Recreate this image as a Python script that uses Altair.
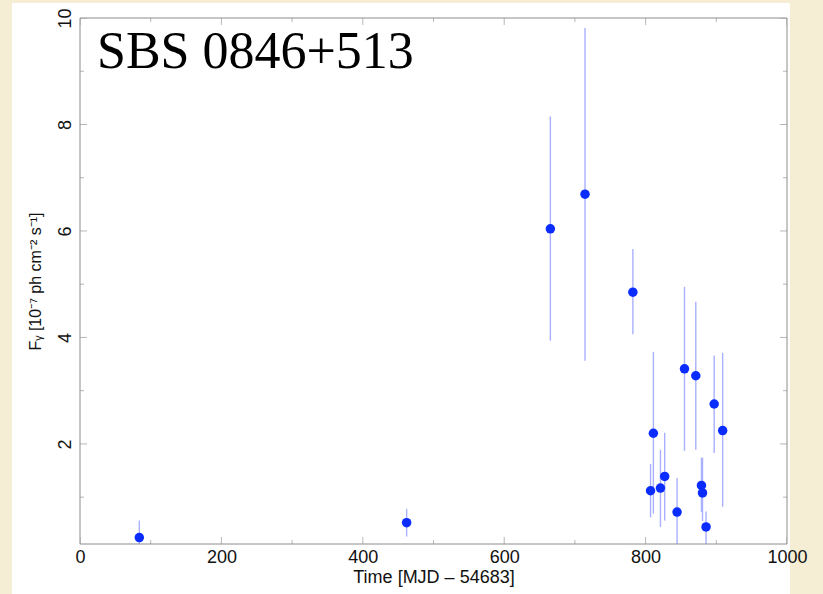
import altair as alt
import pandas as pd

# ---- data ----
t_mjd = [83.9, 462, 665.3, 714.3, 782, 807, 811, 821, 827, 844.5, 855, 871, 879, 880.5, 885.5, 897, 909]
flux = [0.24, 0.52, 6.04, 6.69, 4.85, 1.12, 2.20, 1.17, 1.39, 0.72, 3.41, 3.28, 1.22, 1.08, 0.44, 2.75, 2.25]
flux_lo = [0.0, 0.26, 3.94, 3.56, 4.06, 0.62, 0.69, 0.44, 0.56, 0.0, 1.87, 1.89, 0.72, 0.55, 0.0, 1.83, 0.82]
flux_hi = [0.56, 0.78, 8.15, 9.81, 5.66, 1.62, 3.73, 1.89, 2.21, 1.36, 4.95, 4.67, 1.74, 1.74, 0.73, 3.66, 3.71]

x_ticks_major = [0, 200, 400, 600, 800, 1000]
x_ticks_minor = [100, 300, 500, 700, 900]
y_ticks_major = [2, 4, 6, 8, 10]
y_ticks_minor = [1, 3, 5, 7, 9]

source_name = "SBS 0846+513"
x_title = "Time [MJD \u2013 54683]"
y_title = "F\u1d67 [10\u207b\u2077 ph cm\u207b\u00b2 s\u207b\u00b9]"

X_DOM = [0, 1000]
Y_DOM = [0.12, 10]
W, H = 707, 526

df = pd.DataFrame({"t": t_mjd, "f": flux, "lo": flux_lo, "hi": flux_hi})

xs = alt.Scale(domain=X_DOM, nice=False, zero=False)
ys = alt.Scale(domain=Y_DOM, nice=False, zero=False)

xaxis = alt.Axis(values=x_ticks_major, format="d", ticks=False, domain=False, grid=False, zindex=2,
                 labelFont="Liberation Sans", labelFontSize=18, labelColor="#111",
                 labelPadding=4, title=x_title, titleFont="Liberation Sans",
                 titleFontSize=18, titleFontWeight="normal", titleColor="#111",
                 titlePadding=2, labelFlush=False)
yaxis = alt.Axis(values=y_ticks_major, format="d", ticks=False, domain=False, grid=False, zindex=2,
                 labelFont="Liberation Sans", labelFontSize=18, labelColor="#111",
                 labelAngle=-90, labelPadding=6, title=y_title,
                 titleFont="Liberation Sans", titleFontSize=16, titleFontWeight="normal",
                 titleColor="#111", titlePadding=13, labelFlush=False)

one = pd.DataFrame({"a": [0]})

# white panel behind the figure
panel = alt.Chart(one).mark_rect(color="white").encode(
    x=alt.value(-68), x2=alt.value(710), y=alt.value(-15), y2=alt.value(H + 50)
)

errs = alt.Chart(df).mark_rule(color="#a9b0ff", strokeWidth=1.4, clip=True).encode(
    x=alt.X("t:Q", scale=xs, axis=xaxis),
    y=alt.Y("lo:Q", scale=ys, axis=yaxis),
    y2="hi:Q",
)

pts = alt.Chart(df).mark_circle(color="#0a2cff", opacity=1, size=90, clip=True).encode(
    x=alt.X("t:Q", scale=xs),
    y=alt.Y("f:Q", scale=ys),
)

# tick marks (inward, on all four sides)
xt = pd.DataFrame({
    "v": x_ticks_major * 2 + x_ticks_minor * 2,
    "edge": [Y_DOM[0]] * len(x_ticks_major) + [Y_DOM[1]] * len(x_ticks_major)
            + [Y_DOM[0]] * len(x_ticks_minor) + [Y_DOM[1]] * len(x_ticks_minor),
    "len": [14] * (2 * len(x_ticks_major)) + [8] * (2 * len(x_ticks_minor)),
})
yt = pd.DataFrame({
    "v": y_ticks_major * 2 + y_ticks_minor * 2,
    "edge": [X_DOM[0]] * len(y_ticks_major) + [X_DOM[1]] * len(y_ticks_major)
            + [X_DOM[0]] * len(y_ticks_minor) + [X_DOM[1]] * len(y_ticks_minor),
    "len": [14] * (2 * len(y_ticks_major)) + [8] * (2 * len(y_ticks_minor)),
})
xtick = alt.Chart(xt).mark_tick(orient="vertical", color="#999", thickness=1, clip=True).encode(
    x=alt.X("v:Q", scale=xs), y=alt.Y("edge:Q", scale=ys),
    size=alt.Size("len:Q", scale=None, legend=None),
)
ytick = alt.Chart(yt).mark_tick(orient="horizontal", color="#999", thickness=1, clip=True).encode(
    y=alt.Y("v:Q", scale=ys), x=alt.X("edge:Q", scale=xs),
    size=alt.Size("len:Q", scale=None, legend=None),
)

frame = alt.Chart(one).mark_rect(fill=None, stroke="#8c8c8c", strokeWidth=1).encode(
    x=alt.value(0), x2=alt.value(W), y=alt.value(0), y2=alt.value(H)
)

label = alt.Chart(one).mark_text(
    text=source_name, font="Liberation Serif", fontSize=52, align="left",
    baseline="alphabetic", color="black"
).encode(x=alt.value(17), y=alt.value(50))

chart = alt.layer(panel, errs, pts, xtick, ytick, frame, label).properties(
    width=W, height=H,
    autosize="none",
    padding={"left": 80, "top": 18, "right": 36, "bottom": 50},
    background="#f6eed4",
).configure_view(stroke=None, fill="white")

chart.save("out.html", embed_options={"renderer": "svg", "actions": False})
